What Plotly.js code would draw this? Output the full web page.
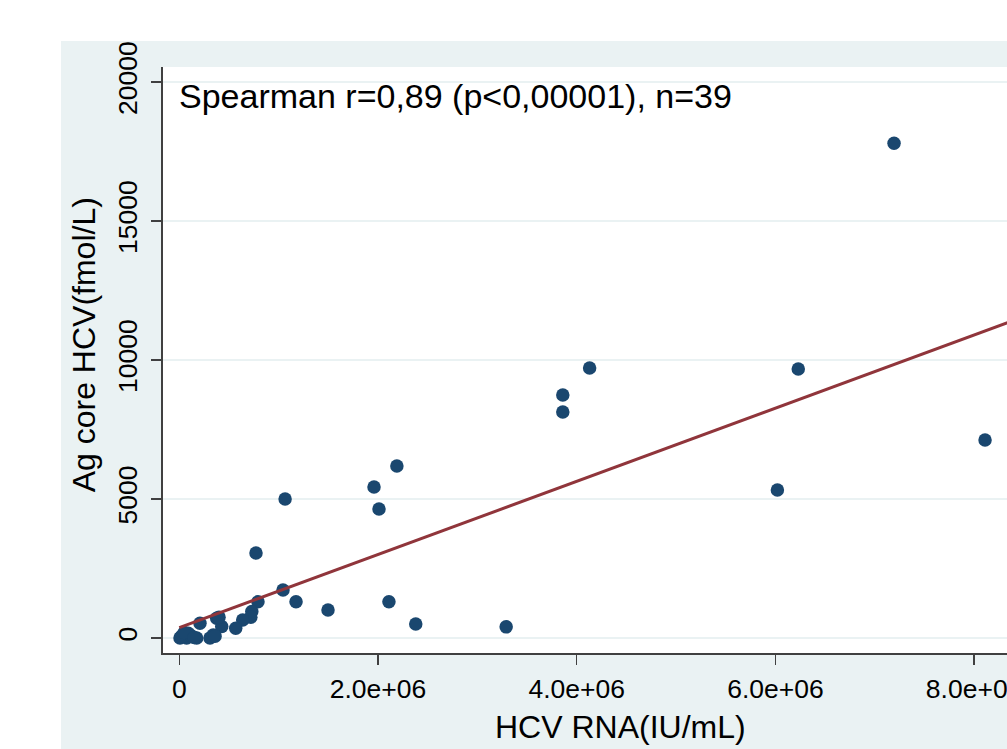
<!DOCTYPE html>
<html>
<head>
<meta charset="utf-8">
<script src="https://cdn.plot.ly/plotly-3.0.1.min.js"></script>
<style>
  html, body { margin: 0; padding: 0; background: #ffffff; overflow: hidden; width: 1007px; height: 749px; }
  #chart { position: absolute; left: 61px; top: 41px; width: 946px; height: 708px; }
</style>
</head>
<body>
<div id="chart"></div>
<script>
// HCV RNA (IU/mL)
const hcvRna = [
  7194000, 4130000, 3860000, 3860000, 6230000, 8110000, 6020000, 2190000, 1960000, 2010000,
  1065000, 772000, 1044000, 792000, 1175000, 1497000, 2110000, 2380000, 3290000,
  730000, 720000, 638000, 568000, 427000, 376000, 342000, 309000, 208000, 175000,
  90000, 40000, 7000, 74000, 20000, 120000, 50000, 360000, 400000, 150000
];
// Ag core HCV (fmol/L)
const agCore = [
  17800, 9710, 8740, 8130, 9680, 7120, 5320, 6190, 5430, 4640,
  5000, 3060, 1730, 1300, 1300, 1010, 1300, 500, 400,
  950, 750, 650, 350, 410, 710, 110, 0, 530, 0,
  170, 110, 0, 0, 50, 80, 200, 60, 750, 20
];
// Fitted line
const fitIntercept = 370;
const fitSlope = 0.001316;
const fitX = [0, 9000000];
const fitY = fitX.map(v => fitIntercept + fitSlope * v);

const xTickVals = [0, 2000000, 4000000, 6000000, 8000000];
const xTickText = ["0", "2.0e+06", "4.0e+06", "6.0e+06", "8.0e+06"];
const yTickVals = [0, 5000, 10000, 15000, 20000];
const yTickText = ["0", "5000", "10000", "15000", "20000"];

const annotationText = "Spearman r=0,89 (p<0,00001), n=39";
const xTitle = "HCV RNA(IU/mL)";
const yTitle = "Ag core HCV(fmol/L)";

const FONT = "Liberation Sans, Arial, Helvetica, sans-serif";

const traces = [
  {
    x: hcvRna, y: agCore, type: "scatter", mode: "markers",
    marker: { color: "#1A476F", size: 13.5, line: { width: 0 } },
    hoverinfo: "x+y", showlegend: false
  },
  {
    x: fitX, y: fitY, type: "scatter", mode: "lines",
    line: { color: "#90353B", width: 3 },
    hoverinfo: "skip", showlegend: false
  }
];

const layout = {
  width: 946, height: 708,
  margin: { l: 102, r: 0, t: 26, b: 96, pad: 0 },
  paper_bgcolor: "#EAF2F3",
  plot_bgcolor: "#FFFFFF",
  font: { family: FONT, color: "#000000", size: 26 },
  showlegend: false,
  xaxis: {
    range: [-164000, 8331000],
    tickmode: "array", tickvals: xTickVals, ticktext: xTickText,
    ticks: "outside", ticklen: 10, tickwidth: 1.3, tickcolor: "#404040",
    showline: true, linecolor: "#404040", linewidth: 2,
    showgrid: false, zeroline: false,
    tickfont: { family: FONT, size: 26.5, color: "#000000" },
    ticklabelstandoff: 1,
    ticklabeloverflow: "allow"
  },
  yaxis: {
    range: [-540, 20540],
    tickmode: "array", tickvals: yTickVals, ticktext: yTickText,
    tickangle: -90,
    ticks: "outside", ticklen: 10, tickwidth: 1.3, tickcolor: "#404040",
    showline: true, linecolor: "#404040", linewidth: 2,
    showgrid: true, gridcolor: "#EAF2F3", gridwidth: 2,
    zeroline: false,
    tickfont: { family: FONT, size: 26.5, color: "#000000" },
    ticklabelstandoff: 3,
    ticklabeloverflow: "allow"
  },
  annotations: [
    {
      text: annotationText, xref: "paper", yref: "paper",
      x: 0.0165, y: 0.950, xanchor: "left", yanchor: "middle",
      showarrow: false, font: { family: FONT, size: 34, color: "#000000" }
    },
    {
      text: xTitle, xref: "paper", yref: "paper",
      x: 0.5415, y: -0.127, xanchor: "center", yanchor: "middle",
      showarrow: false, font: { family: FONT, size: 32, color: "#000000" }
    },
    {
      text: yTitle, xref: "paper", yref: "paper", textangle: -90,
      x: -0.0936, y: 0.525, xanchor: "center", yanchor: "middle",
      showarrow: false, font: { family: FONT, size: 32, color: "#000000" }
    }
  ]
};

Plotly.newPlot("chart", traces, layout, { displayModeBar: false, staticPlot: true });
</script>
</body>
</html>
